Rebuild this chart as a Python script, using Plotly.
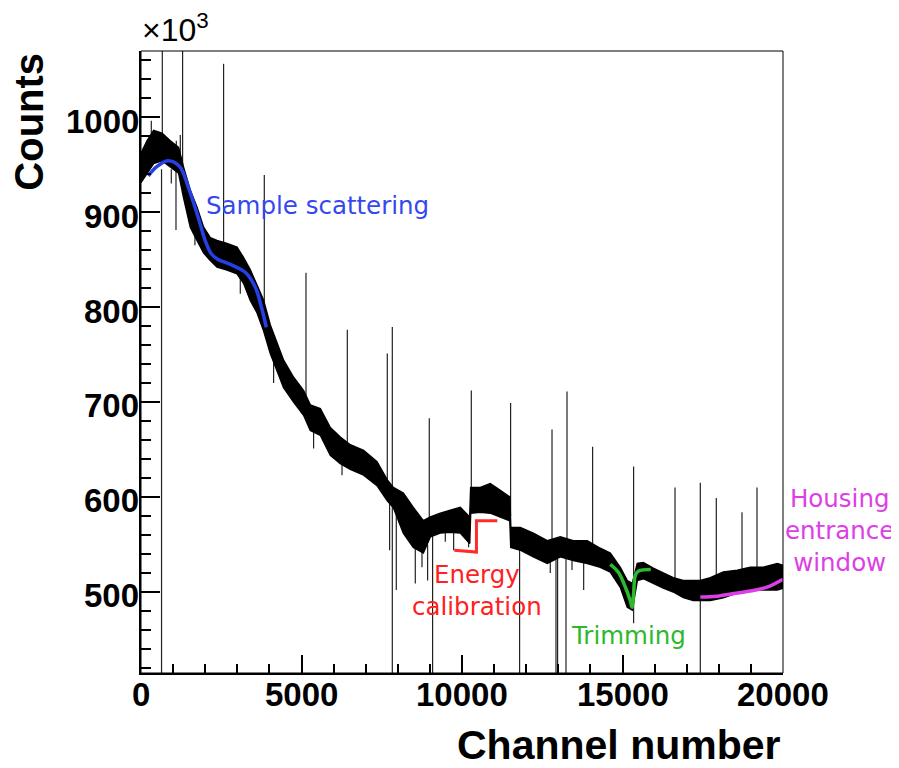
import plotly.graph_objects as go

# ---------------- data (counts in units of 10^3) ----------------
band_channel = [0, 187, 393, 654, 913, 1171, 1327, 1536, 1745, 1950, 2159, 2368, 2679, 2991,
                3196, 3405, 3614, 3819, 4028, 4237, 4442, 4754, 5066, 5274, 5586, 5897, 6209,
                6520, 6935, 7352, 7673, 7860, 8172, 8483, 8795, 9013, 9324, 9636, 9947, 10240,
                10270, 10570, 10881, 11193, 11490, 11520, 11816, 12221, 12657, 13062, 13467,
                13903, 14308, 14620, 14931, 15149, 15305, 15461, 15648, 15959, 16270, 16582,
                16893, 17205, 17423, 17735, 18140, 18576, 18981, 19386, 19822, 20000]
band_upper = [962, 975, 986, 983, 975, 968, 947, 923, 905, 884, 873, 870, 867, 863,
              852, 839, 823, 807, 781, 762, 744, 726, 712, 697, 693, 673, 663,
              655, 649, 637, 618, 610, 604, 589, 575, 579, 583, 586, 589, 579,
              610, 610, 614, 607, 600, 568, 568, 562, 554, 558, 554,
              554, 546, 541, 526, 512, 509, 530, 531, 525, 520, 515,
              512, 512, 512, 515, 521, 523, 526, 526, 530, 528]
band_lower = [931, 941, 951, 954, 947, 941, 915, 884, 870, 857, 849, 842, 839, 835,
              825, 807, 794, 775, 751, 733, 715, 700, 686, 670, 665, 644, 635,
              629, 623, 612, 596, 589, 562, 547, 541, 558, 562, 563, 562, 551,
              583, 584, 583, 579, 575, 547, 544, 537, 530, 537, 533,
              530, 526, 521, 505, 484, 481, 512, 514, 509, 504, 500,
              494, 491, 491, 491, 494, 499, 502, 502, 502, 504]

# narrow upward peaks: channel, top, foot
peak_channel = [321, 477, 664, 1100, 1224, 1296, 2573, 3841, 5140, 6427, 7673, 7829, 8981,
                10290, 11514, 12804, 13271, 14069, 15346, 16636, 17424, 17922, 18723, 19190]
peak_top = [996, 983, 1100, 975, 981, 1100, 1056, 939, 836, 776, 751, 779, 683,
            712, 699, 671, 711, 653, 632, 610, 615, 599, 584, 610]
peak_foot = [960, 960, 955, 950, 950, 940, 850, 790, 700, 640, 605, 600, 560,
             590, 580, 545, 545, 540, 500, 508, 500, 505, 510, 512]

# downward dips: channel, bottom, top
dip_channel = [640, 944, 1090, 1680, 3093, 4131, 5377, 6262, 7745, 7829, 7953, 8545,
               8754, 8929, 9084, 9480, 9740, 10206, 11794, 12750, 12928, 12978, 13240,
               13427, 13790, 15346, 17424]
dip_bottom = [380, 930, 881, 865, 814, 720, 651, 623, 544, 380, 502, 509,
              526, 512, 380, 553, 544, 547, 380, 520, 380, 380, 380,
              523, 502, 467, 380]
dip_top = [945, 945, 945, 905, 840, 750, 690, 640, 600, 600, 590, 560,
           555, 550, 560, 570, 570, 560, 550, 545, 545, 545, 545,
           545, 540, 505, 500]

# coloured model curves
blue_channel = [227, 500, 850, 1200, 1474, 1785, 2000, 2190, 2400, 2626, 2900, 3249, 3561, 3750, 3903]
blue_counts = [938, 948, 954, 948, 926, 894, 870, 856, 850, 847, 843, 836.5, 820.7, 800, 778.6]

red_channel = [9760, 10450, 10450, 11100]
red_counts = [544, 542, 575, 575]

green_channel = [14620, 14870, 15090, 15240, 15296, 15346, 15400, 15500, 15880]
green_counts = [529, 520.7, 505, 491, 484, 498, 517.6, 522, 523.6]

magenta_channel = [17424, 17944, 18461, 18981, 19500, 20000]
magenta_counts = [494.7, 495.5, 498.3, 501, 505, 513.4]

x_ticks = [0, 5000, 10000, 15000, 20000]
x_tick_labels = ["0", "5000", "10000", "15000", "20000"]
y_ticks = [500, 600, 700, 800, 900, 1000]
y_tick_labels = ["500", "600", "700", "800", "900", "1000"]

# ---------------- figure ----------------
fig = go.Figure()

# spikes (drawn first, band on top)
px_, py_ = [], []
for c, t, f in zip(peak_channel, peak_top, peak_foot):
    px_ += [c, c, None]
    py_ += [f, t, None]
for c, b, t in zip(dip_channel, dip_bottom, dip_top):
    px_ += [c, c, None]
    py_ += [t, b, None]
fig.add_trace(go.Scatter(x=px_, y=py_, mode="lines",
                         line=dict(color="#222222", width=1.2), hoverinfo="skip",
                         showlegend=False))

# noisy spectrum band
fig.add_trace(go.Scatter(x=band_channel, y=band_lower, mode="lines",
                         line=dict(color="black", width=1.5), showlegend=False))
fig.add_trace(go.Scatter(x=band_channel, y=band_upper, mode="lines", fill="tonexty",
                         fillcolor="black", line=dict(color="black", width=1.5),
                         showlegend=False))

# model curves
fig.add_trace(go.Scatter(x=blue_channel, y=blue_counts, mode="lines",
                         line=dict(color="#2540e6", width=3.5, shape="spline"),
                         showlegend=False))
fig.add_trace(go.Scatter(x=red_channel, y=red_counts, mode="lines",
                         line=dict(color="#ff2a2a", width=3), showlegend=False))
fig.add_trace(go.Scatter(x=green_channel, y=green_counts, mode="lines",
                         line=dict(color="#2db82d", width=3.5, shape="spline"),
                         showlegend=False))
fig.add_trace(go.Scatter(x=magenta_channel, y=magenta_counts, mode="lines",
                         line=dict(color="#dd3ee6", width=3.5, shape="spline"),
                         showlegend=False))

axis_font = dict(family="Liberation Sans, Arial, sans-serif", size=33, color="black",
                 weight="bold")

fig.update_xaxes(range=[0, 20000], tickvals=x_ticks, showticklabels=False,
                 ticks="inside", ticklen=18, tickwidth=2, tickcolor="black",
                 minor=dict(dtick=1000, ticklen=9, tickwidth=2, tickcolor="black",
                            ticks="inside"),
                 showline=True, linewidth=2, linecolor="black", showgrid=False,
                 zeroline=False)
fig.update_yaxes(range=[414.7, 1069.5], tickvals=y_ticks, showticklabels=False,
                 ticks="inside", ticklen=19, tickwidth=2, tickcolor="black",
                 minor=dict(dtick=20, tick0=0, ticklen=10, tickwidth=2, tickcolor="black",
                            ticks="inside"),
                 showline=True, linewidth=2, linecolor="black", showgrid=False,
                 zeroline=False)

fig.add_shape(type="rect", xref="paper", yref="paper", x0=0, y0=0, x1=1, y1=1,
              line=dict(color="black", width=1))

annotations = []
# tick labels
for v, t in zip(x_ticks, x_tick_labels):
    annotations.append(dict(text=t, x=v, xref="x", y=-0.0342, yref="paper",
                            xanchor="center", yanchor="middle", showarrow=False,
                            font=axis_font))
for v, t in zip(y_ticks, y_tick_labels):
    annotations.append(dict(text=t, x=-0.0005, xref="paper", y=v, yref="y", yshift=-4,
                            xanchor="right", yanchor="middle", showarrow=False,
                            font=axis_font))

label_font = "DejaVu Sans, Verdana, sans-serif"
texts = [
    dict(text="Channel number", x=1, y=-0.115, xanchor="right", yanchor="middle",
         font=dict(family="Liberation Sans, Arial", size=41, color="black", weight="bold")),
    dict(text="Counts", x=-0.175, y=1.0, xanchor="center", yanchor="top", textangle=-90,
         font=dict(family="Liberation Sans, Arial", size=40, color="black", weight="bold")),
    dict(text="×10<sup>3</sup>", x=-0.002, y=1.002, xanchor="left", yanchor="bottom",
         font=dict(family="Liberation Sans, Arial", size=32, color="black")),
    dict(text="Sample scattering", x=0.0986, y=0.752, xanchor="left", yanchor="middle",
         font=dict(family=label_font, size=24.5, color="#3548f0")),
    dict(text="Energy<br>calibration", x=0.524, y=0.133, xanchor="center", yanchor="middle",
         font=dict(family=label_font, size=24.5, color="#ff2020")),
    dict(text="Trimming", x=0.759, y=0.061, xanchor="center", yanchor="middle",
         font=dict(family=label_font, size=24.5, color="#2db82d")),
    dict(text="Housing<br>entrance<br>window", x=1.0877, y=0.229, xanchor="center",
         yanchor="middle", font=dict(family=label_font, size=24.5, color="#dd3ee6")),
]
for a in texts:
    a.update(xref="paper", yref="paper", showarrow=False)
annotations += texts
fig.update_layout(annotations=annotations)

fig.update_layout(width=891, height=760, plot_bgcolor="white", paper_bgcolor="white",
                  margin=dict(l=133, r=116, t=43, b=95), showlegend=False)

fig.write_html("out.html")
